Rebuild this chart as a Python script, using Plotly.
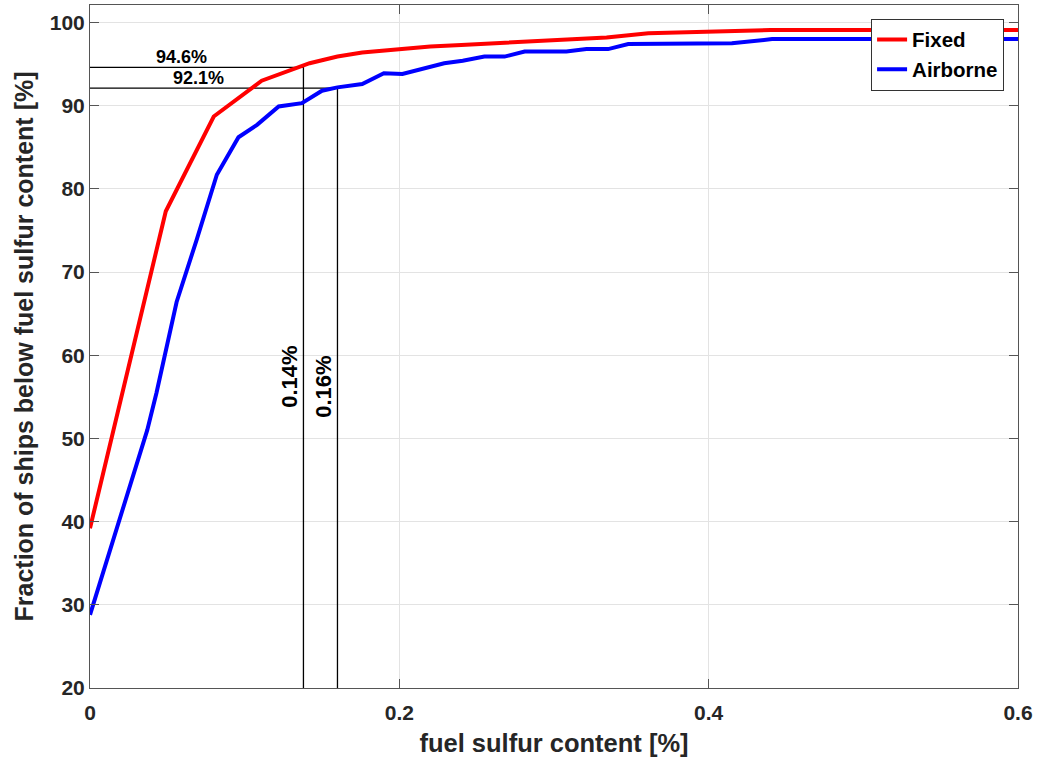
import plotly.graph_objects as go

# ---- data ----
fixed_x = [0.0, 0.049, 0.080, 0.111, 0.142, 0.160, 0.176, 0.188, 0.200, 0.220, 0.240,
           0.270, 0.300, 0.334, 0.361, 0.407, 0.440, 0.500, 0.600]
fixed_y = [39.2, 77.3, 88.7, 93.0, 95.1, 95.9, 96.4, 96.6, 96.8, 97.1, 97.3,
           97.6, 97.9, 98.2, 98.7, 98.9, 99.1, 99.1, 99.1]

air_x = [0.0, 0.037, 0.043, 0.056, 0.069, 0.082, 0.096, 0.108, 0.122, 0.137, 0.150,
         0.160, 0.176, 0.190, 0.202, 0.229, 0.241, 0.255, 0.268, 0.281, 0.308, 0.321,
         0.335, 0.348, 0.415, 0.441, 0.600]
air_y = [28.8, 51.0, 55.5, 66.4, 73.9, 81.7, 86.2, 87.7, 89.9, 90.3, 91.8,
         92.2, 92.6, 93.9, 93.8, 95.1, 95.4, 95.9, 95.9, 96.5, 96.5, 96.8,
         96.8, 97.4, 97.5, 98.0, 98.0]

# reference crossings (fuel sulfur content, fraction)
cross_x = [0.138, 0.160]
cross_y = [94.6, 92.1]
cross_xlabels = ["0.14%", "0.16%"]
cross_ylabels = ["94.6%", "92.1%"]

x_ticks = [0, 0.2, 0.4, 0.6]
x_ticktext = ["0", "0.2", "0.4", "0.6"]
y_ticks = [20, 30, 40, 50, 60, 70, 80, 90, 100]

FONT = "Liberation Sans, Arial, sans-serif"
TXT = "#262626"

fig = go.Figure()

# crossing guide lines
for cx, cy in zip(cross_x, cross_y):
    fig.add_trace(go.Scatter(x=[0, cx, cx], y=[cy, cy, 20], mode="lines",
                             line=dict(color="black", width=1.3),
                             showlegend=False, hoverinfo="skip"))

fig.add_trace(go.Scatter(x=fixed_x, y=fixed_y, mode="lines", name="Fixed",
                         line=dict(color="#ff0000", width=4)))
fig.add_trace(go.Scatter(x=air_x, y=air_y, mode="lines", name="Airborne",
                         line=dict(color="#0000ff", width=4)))

# horizontal labels
fig.add_annotation(x=0.059, y=cross_y[0], text=cross_ylabels[0], showarrow=False,
                   yanchor="bottom", yshift=-2,
                   font=dict(family=FONT, size=18, color="black", weight="bold"))
fig.add_annotation(x=0.070, y=cross_y[1], text=cross_ylabels[1], showarrow=False,
                   yanchor="bottom", yshift=-2,
                   font=dict(family=FONT, size=18, color="black", weight="bold"))
# vertical labels
fig.add_annotation(x=cross_x[0], y=57.4, text=cross_xlabels[0],
                   showarrow=False, textangle=-90, xanchor="right", xshift=1,
                   font=dict(family=FONT, size=22, color="black", weight="bold"))
fig.add_annotation(x=cross_x[1], y=56.2, text=cross_xlabels[1],
                   showarrow=False, textangle=-90, xanchor="right", xshift=1,
                   font=dict(family=FONT, size=22, color="black", weight="bold"))

axis_common = dict(showline=True, linecolor="#555555", linewidth=1, mirror="ticks",
                   ticks="inside", ticklen=9, tickcolor="#555555", tickwidth=1,
                   showgrid=True, gridcolor="#e3e3e3", gridwidth=1, zeroline=False,
                   tickfont=dict(family=FONT, size=21, color=TXT, weight="bold"))

fig.update_xaxes(range=[0, 0.6], tickvals=x_ticks, ticktext=x_ticktext,
                 ticklabelstandoff=6,
                 title=dict(text="fuel sulfur content [%]", standoff=10,
                            font=dict(family=FONT, size=25.5, color=TXT, weight="bold")),
                 **axis_common)
fig.update_yaxes(range=[20, 102.1], tickvals=y_ticks,
                 title=dict(text="Fraction of ships below fuel sulfur content [%]",
                            standoff=9,
                            font=dict(family=FONT, size=25, color=TXT, weight="bold")),
                 **axis_common)

fig.update_layout(
    width=1039, height=762,
    margin=dict(l=90, r=21, t=5, b=74, autoexpand=False),
    plot_bgcolor="white", paper_bgcolor="white",
    font=dict(family=FONT, color=TXT),
    legend=dict(x=0.985, y=0.98, xanchor="right", yanchor="top",
                bgcolor="white", bordercolor="#333333", borderwidth=1,
                font=dict(family=FONT, size=20.5, color="black", weight="bold"),
                itemwidth=30, tracegroupgap=0),
)

fig.write_html("out.html", config={"displayModeBar": False},
               post_script="document.body.style.margin='0';document.body.style.overflow='hidden';")
